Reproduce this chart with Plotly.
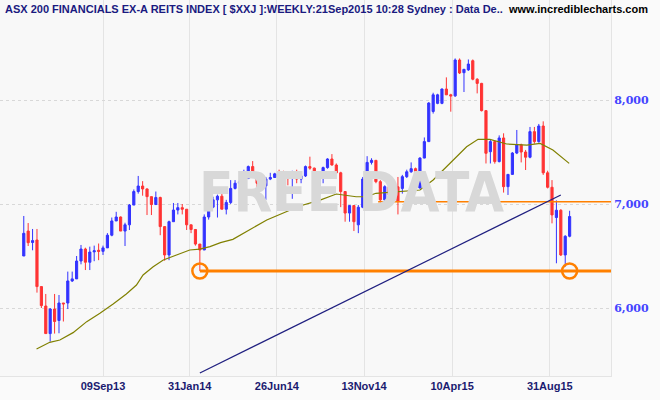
import plotly.graph_objects as go

opens = [6500,6740,6630,6654,6206,6019,5754,5990,5880,6048,6048,6260,6280,6452,6567,6440,6540,6555,6545,6578,
         6700,6837,6875,6740,6800,6990,7120,7173,7145,7071,6995,7063,6783,6510,6830,6942,6965,6950,6800,6755,
         6615,6558,6875,6970,7040,7075,6950,7015,7150,7200,7215,7245,7360,7263,7200,7175,7240,7255,7290,7260,
         7250,7245,7310,7240,7270,7360,7345,7094,7260,7350,7433,7375,7300,7120,6913,6985,6800,6969,7310,7400,
         7420,7215,7040,7167,7087,7165,7150,7263,7310,7340,7154,7442,7600,7890,7968,7968,8106,8050,8040,8385,
         8263,8290,8378,8200,8160,7898,7503,7600,7408,7635,7167,7285,7490,7570,7500,7450,7696,7600,7750,7300,
         7161,6870,6940,6510,6690]
highs = [6885,6817,6760,6760,6206,6135,6000,6135,6125,6048,6350,6350,6500,6606,6580,6590,6600,6620,6600,6720,
         6870,6925,6880,6820,7000,7140,7270,7220,7150,7071,7120,7070,6783,6840,7010,7010,7000,6950,6800,6760,
         6615,6900,7000,7070,7090,7110,7040,7230,7230,7230,7330,7370,7413,7270,7210,7260,7300,7300,7330,7320,
         7280,7320,7330,7300,7370,7455,7350,7270,7360,7440,7480,7390,7310,7120,6990,6990,6990,7260,7460,7440,
         7420,7230,7180,7240,7180,7260,7280,7330,7400,7350,7450,7640,7980,8070,8060,8110,8218,8060,8400,8400,
         8300,8390,8390,8210,8165,7900,7620,7610,7660,7680,7200,7500,7712,7580,7520,7741,7741,7770,7795,7320,
         7230,7035,6950,6700,6935]
lows = [6500,6596,6555,6148,6000,5754,5677,5754,5757,5870,5990,6250,6280,6420,6365,6365,6450,6460,6510,6578,
        6690,6837,6740,6596,6750,6990,7100,7080,6894,6894,6990,6700,6455,6460,6830,6900,6900,6750,6720,6600,
        6356,6558,6850,6960,6870,6950,6900,7000,7140,7100,7200,7240,7260,7150,7150,7040,7230,7250,7200,7200,
        7180,7050,7200,7200,7260,7330,7090,7090,7200,7340,7370,7290,6970,6830,6830,6740,6720,6960,7300,7380,
        7200,7000,7000,7080,7060,6900,7100,7250,7300,7140,7150,7440,7600,7870,7960,7960,8050,7888,8030,8250,
        8077,8280,8190,8064,7890,7390,7390,7388,7400,7110,7087,7280,7480,7400,7327,7440,7580,7590,7280,7150,
        6814,6430,6500,6397,6680]
closes = [6718,6628,6648,6206,6023,5754,5990,5870,6048,6040,6260,6280,6452,6567,6440,6538,6550,6545,6578,6700,
          6837,6875,6740,6800,6990,7120,7173,7145,7071,6995,7063,6783,6510,6830,6942,6965,6950,6800,6755,6615,
          6558,6875,6970,7040,7075,6950,7015,7150,7200,7215,7245,7360,7263,7200,7175,7240,7255,7290,7260,7250,
          7245,7310,7240,7270,7360,7345,7094,7260,7350,7433,7375,7300,7120,6913,6985,6830,6969,7240,7400,7420,
          7215,7040,7167,7087,7165,7023,7263,7310,7340,7154,7442,7600,7971,8050,8050,8106,8050,8040,8385,8260,
          8295,8346,8200,8160,7898,7488,7600,7408,7635,7167,7285,7490,7570,7500,7450,7696,7600,7750,7300,7161,
          6895,6940,6510,6690,6880]

ma_idx = [2.9,5.9,8.2,11.2,14.3,17.3,20.3,23.3,25.6,27.1,29.4,31.7,34.7,37.7,40,42.3,44.7,47.5,55.2,62.7,67.3,
          71,75.5,77.8,80,85.5,90,93,96.8,100.6,103.2,105.9,109.7,114.3,117.3,120.2,123.9]
ma_val = [5606,5670,5692,5763,5869,5949,6039,6135,6221,6317,6397,6462,6510,6558,6567,6590,6628,6660,6846,6981,7038,
          7096,7070,7070,7103,7119,7135,7231,7394,7551,7622,7622,7577,7567,7583,7519,7391]

trend_idx = [40, 122]
trend_val = [5375, 7087]
support_idx = [40, 134]
support_val = [6356, 6356]
resist_idx = [80.5, 134]
resist_val = [7022, 7022]
circle_idx = [40, 124]
circle_val = [6356, 6356]

tick_pos = [18, 37.7, 57.5, 77.3, 97.3, 119.5]
tick_text = ["09Sep13", "31Jan14", "26Jun14", "13Nov14", "10Apr15", "31Aug15"]
ytick_vals = [6000, 7000, 8000]
ytick_text = ["6,000", "7,000", "8,000"]

x = list(range(len(closes)))
fig = go.Figure()
fig.add_trace(go.Scatter(x=support_idx, y=support_val, mode="lines", line=dict(color="#ff8000", width=3), hoverinfo="skip"))
fig.add_trace(go.Scatter(x=resist_idx, y=resist_val, mode="lines", line=dict(color="#ff8000", width=1.5), hoverinfo="skip"))
fig.add_trace(go.Scatter(x=ma_idx, y=ma_val, mode="lines", line=dict(color="#808000", width=1.2), hoverinfo="skip"))
fig.add_trace(go.Scatter(x=trend_idx, y=trend_val, mode="lines", line=dict(color="#202080", width=1.2), hoverinfo="skip"))
fig.add_trace(go.Candlestick(x=x, open=opens, high=highs, low=lows, close=closes,
                             increasing=dict(line=dict(color="#3333ff", width=1), fillcolor="#3333ff"),
                             decreasing=dict(line=dict(color="#ff3333", width=1), fillcolor="#ff3333"),
                             whiskerwidth=0))
fig.add_trace(go.Scatter(x=circle_idx, y=circle_val, mode="markers",
                         marker=dict(symbol="circle-open", size=15, color="#ff8000", line=dict(width=2.5)), hoverinfo="skip"))

fig.update_layout(
    width=660, height=400, showlegend=False,
    margin=dict(l=0, r=49, t=0, b=24),
    paper_bgcolor="#fafafa", plot_bgcolor="#f8f8f8",
    xaxis=dict(range=[-5.4, 133.4], rangeslider=dict(visible=False), tickvals=tick_pos, ticktext=tick_text,
               showgrid=True, gridcolor="#e4e4e4", zeroline=False, ticks="",
               tickfont=dict(family="Arial", size=11, color="#1a1a70", weight="bold"),
               showline=True, linecolor="#e4e4e4", mirror=True),
    yaxis=dict(range=[5346, 8962], side="right", tickvals=ytick_vals, ticktext=ytick_text,
               showgrid=True, gridcolor="#d8d8d8", griddash="dot", zeroline=False, ticks="",
               tickfont=dict(family="DejaVu Serif", size=11, color="#4444ff", weight="bold"),
               showline=True, linecolor="#e4e4e4"),
    font=dict(family="Arial"),
    annotations=[
        dict(text="<b>FREE DATA</b>", x=0.575, y=0.49, xref="paper", yref="paper", showarrow=False,
             font=dict(family="DejaVu Sans Condensed", size=56, color="#d8d8d8")),
        dict(text="<b>ASX 200 FINANCIALS EX-A REITS INDEX [ $XXJ ]:WEEKLY:21Sep2015 10:28 Sydney : Data De..</b>",
             x=3/611, y=1-9/376, xref="paper", yref="paper", xanchor="left", yanchor="middle", showarrow=False,
             font=dict(family="Arial", size=11, color="#1a1a80")),
        dict(text="<b>www.incrediblecharts.com</b>", x=506/611, y=1-9/376, xref="paper", yref="paper",
             showarrow=False, xanchor="left", yanchor="middle",
             font=dict(family="Arial", size=11, color="#000000")),
    ],
)
fig.write_html("out.html", config={"displayModeBar": False},
               post_script="document.body.style.margin='0';document.body.style.overflow='hidden';")
